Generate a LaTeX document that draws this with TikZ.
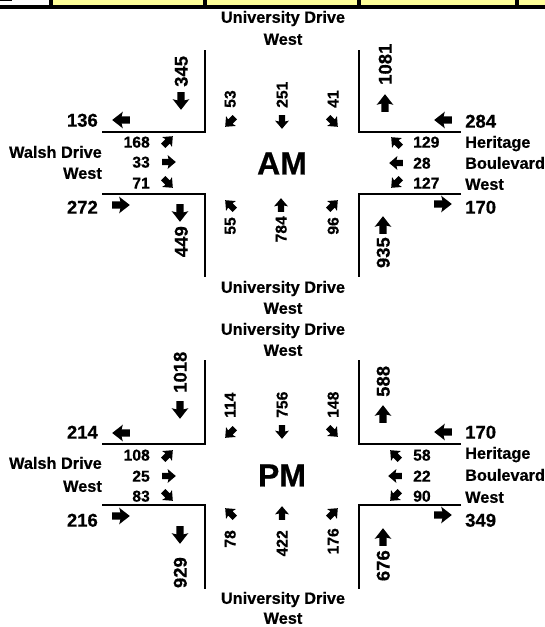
\documentclass[tikz,border=0pt]{standalone}
\usepackage{fontspec}
\setmainfont{Liberation Sans}[BoldFeatures={FakeBold=0.6}]
\definecolor{cellyellow}{HTML}{FFFF99}
\tikzset{
  road/.style={font=\fontsize{16.3}{18}\selectfont\bfseries, inner sep=0pt, text height=11.6pt, text depth=0pt},
  vol/.style={font=\fontsize{18.5}{20}\selectfont\bfseries, inner sep=0pt, text height=13.3pt, text depth=0pt},
  mov/.style={font=\fontsize{15.7}{17}\selectfont\bfseries, inner sep=0pt, text height=11.2pt, text depth=0pt},
  period/.style={font=\fontsize{32}{34}\selectfont\bfseries, inner sep=0pt, text height=22.9pt, text depth=0pt},
  curb/.style={line width=2pt, line join=miter},
  bigarr/.pic={\fill (-8.8,-3.6) -- (-0.6,-3.6) -- (-1.8,-8.3) -- (8.8,0) -- (-1.8,8.3) -- (-0.6,3.6) -- (-8.8,3.6) -- cycle;},
  smallarr/.pic={\fill (-6.8,-3.1) -- (-0.5,-3.1) -- (-1.4,-7) -- (6.8,0) -- (-1.4,7) -- (-0.5,3.1) -- (-6.8,3.1) -- cycle;}
}
\begin{document}
\begin{tikzpicture}[x=1pt, y=-1pt]
\useasboundingbox (0,0) rectangle (545,627);
% cropped table strip at the top
\fill[cellyellow] (0,0) rectangle (545,5);
\fill[white] (0,0) rectangle (49,5);
\fill (0,5) rectangle (545,8.5);
\fill (49,0) rectangle (53,5);
\fill (203,0) rectangle (206.5,5);
\fill (357,0) rectangle (361,5);
\fill (515,0) rectangle (519,5);
\fill (0,0) rectangle (12,1.3);

% ================= AM =================
\node[road] (uA1) at (283,17) {University Drive};
\node[road] (uA2) at (283,39) {West};
\node[road] (uA3) at (283,287) {University Drive};
\node[road] (uA4) at (283,308) {West};
\node[road, anchor=east] (wA1) at (102,152) {Walsh Drive};
\node[road, anchor=east] (wA2) at (102,173) {West};
\node[road, anchor=west] (hA1) at (465,142) {Heritage};
\node[road, anchor=west] (hA2) at (465,163) {Boulevard};
\node[road, anchor=west] (hA3) at (465,184) {West};
\node[period] (am) at (282,163) {AM};

\draw[curb] (205,50) -- (205,132) -- (102,132);
\draw[curb] (359,50) -- (359,132) -- (461,132);
\draw[curb] (102,194) -- (205,194) -- (205,277);
\draw[curb] (461,194) -- (359,194) -- (359,277);

\node[vol, anchor=east] (vA1) at (98,120) {136};
\pic[rotate=180] at (121,120) {bigarr};
\node[vol, anchor=east] (vA2) at (98,207) {272};
\pic at (121,205) {bigarr};
\node[vol, anchor=west] (vA3) at (465,121) {284};
\pic[rotate=180] at (443,120) {bigarr};
\node[vol, anchor=west] (vA4) at (465,207) {170};
\pic at (443,204) {bigarr};
\node[vol, rotate=90, anchor=west] (vA5) at (181,87) {345};
\pic[rotate=-90] at (181,101) {bigarr};
\node[vol, rotate=90, anchor=west] (vA6) at (385,85) {1081};
\pic[rotate=90] at (385,103) {bigarr};
\node[vol, rotate=90, anchor=east] (vA7) at (181,226) {449};
\pic[rotate=-90] at (180,213) {bigarr};
\node[vol, rotate=90, anchor=east] (vA8) at (383,237) {935};
\pic[rotate=90] at (383,225) {bigarr};

\node[mov, rotate=90, anchor=west] (mA1) at (230,108) {53};
\pic[rotate=-135] at (230,122) {smallarr};
\node[mov, rotate=90, anchor=west] (mA2) at (282,108) {251};
\pic[rotate=-90] at (282,122) {smallarr};
\node[mov, rotate=90, anchor=west] (mA3) at (333,108) {41};
\pic[rotate=-45] at (333,122) {smallarr};
\node[mov, rotate=90, anchor=east] (mA4) at (230,217) {55};
\pic[rotate=135] at (230,205) {smallarr};
\node[mov, rotate=90, anchor=east] (mA5) at (281,216) {784};
\pic[rotate=90] at (281,205) {smallarr};
\node[mov, rotate=90, anchor=east] (mA6) at (333,217) {96};
\pic[rotate=45] at (333,205) {smallarr};

\node[mov, anchor=east] (mA7) at (150,142) {168};
\pic[rotate=45] at (168,141) {smallarr};
\node[mov, anchor=east] (mA8) at (150,162) {33};
\pic at (169,162) {smallarr};
\node[mov, anchor=east] (mA9) at (150,183) {71};
\pic[rotate=-45] at (168,183) {smallarr};
\node[mov, anchor=west] (mA10) at (413,142) {129};
\pic[rotate=135] at (396,142) {smallarr};
\node[mov, anchor=west] (mA11) at (413,163) {28};
\pic[rotate=180] at (396,163) {smallarr};
\node[mov, anchor=west] (mA12) at (413,183) {127};
\pic[rotate=-135] at (396,183) {smallarr};

% ================= PM =================
\node[road] (uP1) at (283,329) {University Drive};
\node[road] (uP2) at (283,350) {West};
\node[road] (uP3) at (283,598) {University Drive};
\node[road] (uP4) at (283,618) {West};
\node[road, anchor=east] (wP1) at (102,463) {Walsh Drive};
\node[road, anchor=east] (wP2) at (102,486) {West};
\node[road, anchor=west] (hP1) at (465,453) {Heritage};
\node[road, anchor=west] (hP2) at (465,475) {Boulevard};
\node[road, anchor=west] (hP3) at (465,497) {West};
\node[period] (pm) at (282,475) {PM};

\draw[curb] (205,360) -- (205,444) -- (102,444);
\draw[curb] (359,360) -- (359,444) -- (461,444);
\draw[curb] (102,505) -- (205,505) -- (205,589);
\draw[curb] (461,505) -- (359,505) -- (359,589);

\node[vol, anchor=east] (vP1) at (98,432) {214};
\pic[rotate=180] at (121,433) {bigarr};
\node[vol, anchor=east] (vP2) at (98,520) {216};
\pic at (121,516) {bigarr};
\node[vol, anchor=west] (vP3) at (465,432) {170};
\pic[rotate=180] at (443,432) {bigarr};
\node[vol, anchor=west] (vP4) at (465,520) {349};
\pic at (443,515) {bigarr};
\node[vol, rotate=90, anchor=west] (vP5) at (180,393) {1018};
\pic[rotate=-90] at (180,410) {bigarr};
\node[vol, rotate=90, anchor=west] (vP6) at (383,397) {588};
\pic[rotate=90] at (383,414) {bigarr};
\node[vol, rotate=90, anchor=east] (vP7) at (180,557) {929};
\pic[rotate=-90] at (180,535) {bigarr};
\node[vol, rotate=90, anchor=east] (vP8) at (383,550) {676};
\pic[rotate=90] at (383,537) {bigarr};

\node[mov, rotate=90, anchor=west] (mP1) at (230,418) {114};
\pic[rotate=-135] at (230,433) {smallarr};
\node[mov, rotate=90, anchor=west] (mP2) at (282,418) {756};
\pic[rotate=-90] at (282,432) {smallarr};
\node[mov, rotate=90, anchor=west] (mP3) at (333,418) {148};
\pic[rotate=-45] at (333,432) {smallarr};
\node[mov, rotate=90, anchor=east] (mP4) at (230,530) {78};
\pic[rotate=135] at (230,513) {smallarr};
\node[mov, rotate=90, anchor=east] (mP5) at (282,530) {422};
\pic[rotate=90] at (282,513) {smallarr};
\node[mov, rotate=90, anchor=east] (mP6) at (333,528) {176};
\pic[rotate=45] at (333,513) {smallarr};

\node[mov, anchor=east] (mP7) at (150,455) {108};
\pic[rotate=45] at (168,455) {smallarr};
\node[mov, anchor=east] (mP8) at (150,476) {25};
\pic at (169,476) {smallarr};
\node[mov, anchor=east] (mP9) at (150,496) {83};
\pic[rotate=-45] at (168,496) {smallarr};
\node[mov, anchor=west] (mP10) at (413,455) {58};
\pic[rotate=135] at (395,455) {smallarr};
\node[mov, anchor=west] (mP11) at (413,476) {22};
\pic[rotate=180] at (395,476) {smallarr};
\node[mov, anchor=west] (mP12) at (413,496) {90};
\pic[rotate=-135] at (395,496) {smallarr};
\end{tikzpicture}
\end{document}
